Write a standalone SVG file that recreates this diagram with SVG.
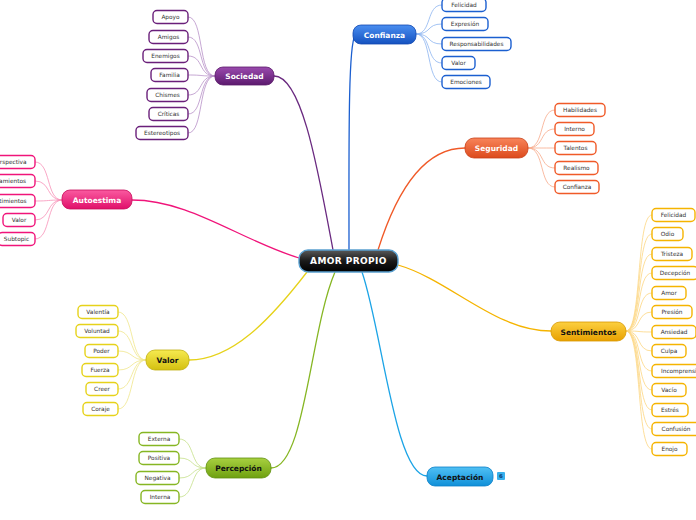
<svg xmlns="http://www.w3.org/2000/svg" width="696" height="520" viewBox="0 0 696 520">
<defs>
<linearGradient id="gBlack" x1="0" y1="0" x2="0" y2="1"><stop offset="0" stop-color="#5a5a5a"/><stop offset="0.5" stop-color="#1a1a1a"/><stop offset="1" stop-color="#000"/></linearGradient>
<linearGradient id="gPurple" x1="0" y1="0" x2="0" y2="1"><stop offset="0" stop-color="#9a4aae"/><stop offset="1" stop-color="#5c1a6e"/></linearGradient>
<linearGradient id="gBlue" x1="0" y1="0" x2="0" y2="1"><stop offset="0" stop-color="#4a8ef0"/><stop offset="1" stop-color="#1552c0"/></linearGradient>
<linearGradient id="gOrange" x1="0" y1="0" x2="0" y2="1"><stop offset="0" stop-color="#f8845a"/><stop offset="1" stop-color="#dc4a1c"/></linearGradient>
<linearGradient id="gGold" x1="0" y1="0" x2="0" y2="1"><stop offset="0" stop-color="#fcd040"/><stop offset="1" stop-color="#e8a000"/></linearGradient>
<linearGradient id="gPink" x1="0" y1="0" x2="0" y2="1"><stop offset="0" stop-color="#fa5aa0"/><stop offset="1" stop-color="#e0106a"/></linearGradient>
<linearGradient id="gYellow" x1="0" y1="0" x2="0" y2="1"><stop offset="0" stop-color="#f6ea50"/><stop offset="1" stop-color="#d4c010"/></linearGradient>
<linearGradient id="gGreen" x1="0" y1="0" x2="0" y2="1"><stop offset="0" stop-color="#a8d040"/><stop offset="1" stop-color="#6ea010"/></linearGradient>
<linearGradient id="gSky" x1="0" y1="0" x2="0" y2="1"><stop offset="0" stop-color="#50c0f4"/><stop offset="1" stop-color="#1090d8"/></linearGradient>
</defs>
<style>
.main text, .center text { font-family: "DejaVu Sans", "Liberation Sans", sans-serif; font-weight: bold; font-size: 7.5px; text-anchor: middle; }
.lt { fill: #fff; }
.dk { fill: #111; }
.child rect { fill: #fff; stroke-width: 1.4; }
.child text { font-family: "DejaVu Sans", "Liberation Sans", sans-serif; font-size: 5.8px; fill: #333; text-anchor: middle; }
.conn path { fill: none; }
.m { stroke-width: 1.3; }
.c { stroke-width: 0.8; }
.pu rect { stroke: #6a1f7a; } .bl rect { stroke: #1b5fd0; } .or rect { stroke: #f05a28; } .go rect { stroke: #f5b400; }
.pk rect { stroke: #f0147a; } .ye rect { stroke: #e6d21a; } .gr rect { stroke: #86b623; }
</style>

<g id="connectors" class="conn">
<path class="m" stroke="#6a2a80" d="M333,250 C318,170 302,76 274,76"/>
<path class="m" stroke="#1b5fd0" d="M349,250 C349,150 348,45 355,36"/>
<path class="m" stroke="#f05a28" d="M378,250 C400,180 430,148 465,148"/>
<path class="m" stroke="#f5b400" d="M398,265 C450,280 495,331 551,331"/>
<path class="m" stroke="#1ca4e6" d="M362,272 C382,330 395,476 427,476"/>
<path class="m" stroke="#86b623" d="M335,272 C310,330 305,468 271,468"/>
<path class="m" stroke="#e6d21a" d="M307,272 C270,320 232,360 189,360"/>
<path class="m" stroke="#f0147a" d="M299,258 C240,240 190,200 132,200"/>
<g stroke="#b890c8">
<path class="c" d="M215,76 C198,76 204,17 188,17"/>
<path class="c" d="M215,76 C198,76 204,37 188,37"/>
<path class="c" d="M215,76 C198,76 204,56 188,56"/>
<path class="c" d="M215,76 C198,76 204,75 188,75"/>
<path class="c" d="M215,76 C198,76 204,95 188,95"/>
<path class="c" d="M215,76 C198,76 204,114 188,114"/>
<path class="c" d="M215,76 C198,76 204,133 188,133"/>
</g>
<g stroke="#8cb4f0">
<path class="c" d="M416,34 C432,34 426,5 442,5"/>
<path class="c" d="M416,34 C432,34 426,24 442,24"/>
<path class="c" d="M416,34 C432,34 426,44 442,44"/>
<path class="c" d="M416,34 C432,34 426,63 442,63"/>
<path class="c" d="M416,34 C432,34 426,82 442,82"/>
</g>
<g stroke="#f8aa8a">
<path class="c" d="M528,148 C545,148 539,110 555,110"/>
<path class="c" d="M528,148 C545,148 539,129 555,129"/>
<path class="c" d="M528,148 C545,148 539,148 555,148"/>
<path class="c" d="M528,148 C545,148 539,168 555,168"/>
<path class="c" d="M528,148 C545,148 539,187 555,187"/>
</g>
<g stroke="#fcd680">
<path class="c" d="M626,331 C642,331 636,215 652,215"/>
<path class="c" d="M626,331 C642,331 636,234 652,234"/>
<path class="c" d="M626,331 C642,331 636,254 652,254"/>
<path class="c" d="M626,331 C642,331 636,273 652,273"/>
<path class="c" d="M626,331 C642,331 636,293 652,293"/>
<path class="c" d="M626,331 C642,331 636,312 652,312"/>
<path class="c" d="M626,331 C642,331 636,332 652,332"/>
<path class="c" d="M626,331 C642,331 636,351 652,351"/>
<path class="c" d="M626,331 C642,331 636,371 652,371"/>
<path class="c" d="M626,331 C642,331 636,390 652,390"/>
<path class="c" d="M626,331 C642,331 636,410 652,410"/>
<path class="c" d="M626,331 C642,331 636,429 652,429"/>
<path class="c" d="M626,331 C642,331 636,449 652,449"/>
</g>
<g stroke="#f890b8">
<path class="c" d="M62,200 C46,200 51,162 35,162"/>
<path class="c" d="M62,200 C46,200 51,181 35,181"/>
<path class="c" d="M62,200 C46,200 51,201 35,201"/>
<path class="c" d="M62,200 C46,200 51,220 35,220"/>
<path class="c" d="M62,200 C46,200 51,239 35,239"/>
</g>
<g stroke="#f0e68a">
<path class="c" d="M146,360 C130,360 134,312 118,312"/>
<path class="c" d="M146,360 C130,360 134,331 118,331"/>
<path class="c" d="M146,360 C130,360 134,351 118,351"/>
<path class="c" d="M146,360 C130,360 134,370 118,370"/>
<path class="c" d="M146,360 C130,360 134,389 118,389"/>
<path class="c" d="M146,360 C130,360 134,409 118,409"/>
</g>
<g stroke="#c4e088">
<path class="c" d="M206,468 C190,468 195,439 179,439"/>
<path class="c" d="M206,468 C190,468 195,458 179,458"/>
<path class="c" d="M206,468 C190,468 195,478 179,478"/>
<path class="c" d="M206,468 C190,468 195,497 179,497"/>
</g>
</g>

<g id="amor-propio" class="center">
<rect x="299" y="250" width="99" height="22" rx="9" fill="url(#gBlack)" stroke="#5aa0d0" stroke-width="1.4"/>
<text x="348.5" y="264.2" class="lt" style="font-size:9px;letter-spacing:0.4px">AMOR PROPIO</text>
</g>

<g id="sociedad" class="main"><rect x="215" y="67" width="59" height="18" rx="8" fill="url(#gPurple)" stroke="#5a1a6a" stroke-width="0.8"/><text x="244.5" y="79" class="lt">Sociedad</text></g>
<g id="confianza" class="main"><rect x="353" y="25" width="63" height="19" rx="8" fill="url(#gBlue)" stroke="#1248b0" stroke-width="0.8"/><text x="384.5" y="37.5" class="lt">Confianza</text></g>
<g id="seguridad" class="main"><rect x="465" y="138" width="63" height="20" rx="9" fill="url(#gOrange)" stroke="#c84018" stroke-width="0.8"/><text x="496.5" y="151" class="lt">Seguridad</text></g>
<g id="sentimientos" class="main"><rect x="551" y="322" width="75" height="19" rx="9" fill="url(#gGold)" stroke="#d89800" stroke-width="0.8"/><text x="588.5" y="334.5" class="dk">Sentimientos</text></g>
<g id="autoestima" class="main"><rect x="62" y="190" width="70" height="19" rx="8" fill="url(#gPink)" stroke="#c80c5c" stroke-width="0.8"/><text x="97" y="202.5" class="lt">Autoestima</text></g>
<g id="valor" class="main"><rect x="146" y="350" width="43" height="20" rx="9" fill="url(#gYellow)" stroke="#c0ae10" stroke-width="0.8"/><text x="167.5" y="363" class="dk">Valor</text></g>
<g id="percepcion" class="main"><rect x="206" y="458" width="65" height="20" rx="9" fill="url(#gGreen)" stroke="#609010" stroke-width="0.8"/><text x="238.5" y="471" class="dk">Percepción</text></g>
<g id="aceptacion" class="main"><rect x="427" y="467" width="66" height="19" rx="8" fill="url(#gSky)" stroke="#0c80c8" stroke-width="0.8"/><text x="460" y="479.5" class="dk">Aceptación</text>
<rect x="497" y="472" width="8" height="8" rx="1" fill="#38b0ec"/><text x="501" y="478.3" class="dk" style="font-size:5.5px;fill:#0a3a70">6</text></g>

<g class="child pu">
<g id="s-apoyo"><rect x="153" y="10.5" width="35" height="13" rx="4"/><text x="170.5" y="19">Apoyo</text></g>
<g id="s-amigos"><rect x="149" y="30.5" width="39" height="13" rx="4"/><text x="168.5" y="39">Amigos</text></g>
<g id="s-enemigos"><rect x="143" y="49.5" width="45" height="13" rx="4"/><text x="165.5" y="58">Enemigos</text></g>
<g id="s-familia"><rect x="151" y="68.5" width="37" height="13" rx="4"/><text x="169.5" y="77">Familia</text></g>
<g id="s-chismes"><rect x="147" y="88.5" width="41" height="13" rx="4"/><text x="167.5" y="97">Chismes</text></g>
<g id="s-criticas"><rect x="149" y="107.5" width="39" height="13" rx="4"/><text x="168.5" y="116">Críticas</text></g>
<g id="s-estereotipos"><rect x="136" y="126.5" width="52" height="13" rx="4"/><text x="162" y="135">Estereotipos</text></g>
</g>

<g class="child bl">
<g id="c-felicidad"><rect x="442" y="-1.5" width="44" height="13" rx="4"/><text x="464" y="7">Felicidad</text></g>
<g id="c-expresion"><rect x="442" y="17.5" width="46" height="13" rx="4"/><text x="465" y="26">Expresión</text></g>
<g id="c-responsabilidades"><rect x="442" y="37.5" width="69" height="13" rx="4"/><text x="476.5" y="46">Responsabilidades</text></g>
<g id="c-valor"><rect x="442" y="56.5" width="33" height="13" rx="4"/><text x="458.5" y="65">Valor</text></g>
<g id="c-emociones"><rect x="442" y="75.5" width="48" height="13" rx="4"/><text x="466" y="84">Emociones</text></g>
</g>

<g class="child or">
<g id="g-habilidades"><rect x="555" y="103.5" width="50" height="13" rx="4"/><text x="580" y="112">Habilidades</text></g>
<g id="g-interno"><rect x="555" y="122.5" width="39" height="13" rx="4"/><text x="574.5" y="131">Interno</text></g>
<g id="g-talentos"><rect x="555" y="141.5" width="41" height="13" rx="4"/><text x="575.5" y="150">Talentos</text></g>
<g id="g-realismo"><rect x="555" y="161.5" width="43" height="13" rx="4"/><text x="576.5" y="170">Realismo</text></g>
<g id="g-confianza"><rect x="555" y="180.5" width="44" height="13" rx="4"/><text x="577" y="189">Confianza</text></g>
</g>

<g class="child go">
<g id="t-felicidad"><rect x="652" y="208.5" width="43" height="13" rx="4"/><text x="673.5" y="217">Felicidad</text></g>
<g id="t-odio"><rect x="652" y="227.5" width="31" height="13" rx="4"/><text x="667.5" y="236">Odio</text></g>
<g id="t-tristeza"><rect x="652" y="247.5" width="40" height="13" rx="4"/><text x="672" y="256">Tristeza</text></g>
<g id="t-decepcion"><rect x="652" y="266.5" width="46" height="13" rx="4"/><text x="675" y="275">Decepción</text></g>
<g id="t-amor"><rect x="652" y="286.5" width="34" height="13" rx="4"/><text x="669" y="295">Amor</text></g>
<g id="t-presion"><rect x="652" y="305.5" width="40" height="13" rx="4"/><text x="672" y="314">Presión</text></g>
<g id="t-ansiedad"><rect x="652" y="325.5" width="44" height="13" rx="4"/><text x="674" y="334">Ansiedad</text></g>
<g id="t-culpa"><rect x="652" y="344.5" width="34" height="13" rx="4"/><text x="669" y="353">Culpa</text></g>
<g id="t-incomprension"><rect x="652" y="364.5" width="62" height="13" rx="4"/><text x="661" y="373" style="text-anchor:start">Incomprensión</text></g>
<g id="t-vacio"><rect x="652" y="383.5" width="34" height="13" rx="4"/><text x="669" y="392">Vacío</text></g>
<g id="t-estres"><rect x="652" y="403.5" width="36" height="13" rx="4"/><text x="670" y="412">Estrés</text></g>
<g id="t-confusion"><rect x="652" y="422.5" width="48" height="13" rx="4"/><text x="676" y="431">Confusión</text></g>
<g id="t-enojo"><rect x="652" y="442.5" width="35" height="13" rx="4"/><text x="669.5" y="451">Enojo</text></g>
</g>

<g class="child pk">
<g id="a-perspectiva"><rect x="-21" y="155.5" width="56" height="13" rx="4"/><text x="26.5" y="164" style="text-anchor:end">Perspectiva</text></g>
<g id="a-pensamientos"><rect x="-26" y="174.5" width="61" height="13" rx="4"/><text x="26" y="183" style="text-anchor:end">Pensamientos</text></g>
<g id="a-sentimientos"><rect x="-27" y="194.5" width="62" height="13" rx="4"/><text x="26.5" y="203" style="text-anchor:end">Sentimientos</text></g>
<g id="a-valor"><rect x="3" y="213.5" width="32" height="13" rx="4"/><text x="19" y="222">Valor</text></g>
<g id="a-subtopic"><rect x="-2" y="232.5" width="37" height="13" rx="4"/><text x="16.5" y="241">Subtopic</text></g>
</g>

<g class="child ye">
<g id="v-valentia"><rect x="78" y="305.5" width="40" height="13" rx="4"/><text x="98" y="314">Valentía</text></g>
<g id="v-voluntad"><rect x="76" y="324.5" width="42" height="13" rx="4"/><text x="97" y="333">Voluntad</text></g>
<g id="v-poder"><rect x="85" y="344.5" width="33" height="13" rx="4"/><text x="101.5" y="353">Poder</text></g>
<g id="v-fuerza"><rect x="82" y="363.5" width="36" height="13" rx="4"/><text x="100" y="372">Fuerza</text></g>
<g id="v-creer"><rect x="86" y="382.5" width="32" height="13" rx="4"/><text x="102" y="391">Creer</text></g>
<g id="v-coraje"><rect x="83" y="402.5" width="35" height="13" rx="4"/><text x="100.5" y="411">Coraje</text></g>
</g>

<g class="child gr">
<g id="p-externa"><rect x="139" y="432.5" width="40" height="13" rx="4"/><text x="159" y="441">Externa</text></g>
<g id="p-positiva"><rect x="139" y="451.5" width="40" height="13" rx="4"/><text x="159" y="460">Positiva</text></g>
<g id="p-negativa"><rect x="136" y="471.5" width="43" height="13" rx="4"/><text x="157.5" y="480">Negativa</text></g>
<g id="p-interna"><rect x="141" y="490.5" width="38" height="13" rx="4"/><text x="160" y="499">Interna</text></g>
</g>
</svg>
